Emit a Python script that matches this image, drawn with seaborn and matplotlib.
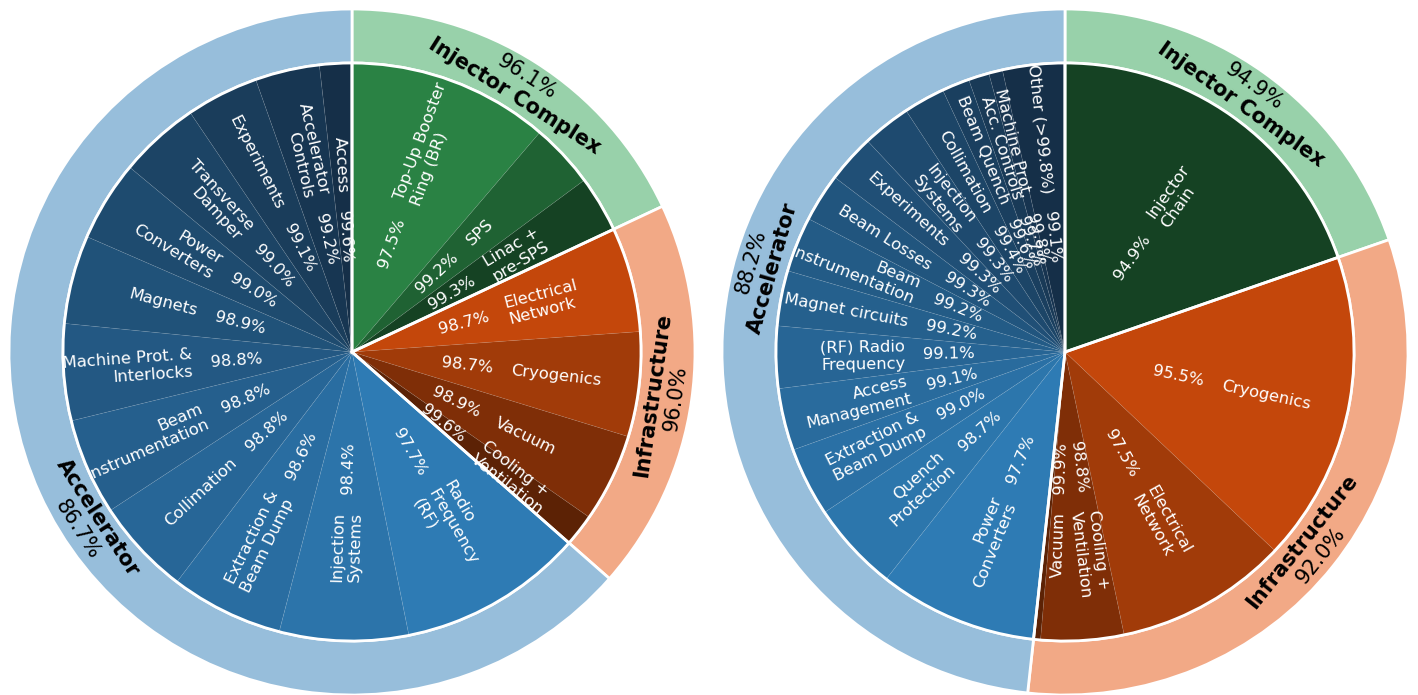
import numpy as np
import matplotlib
matplotlib.use("Agg")
import matplotlib.pyplot as plt
import seaborn as sns

# ---- left chart data (availability in %) ----
l_group_names = ["Injector Complex", "Infrastructure", "Accelerator"]
l_group_avail = [96.1, 96.0, 86.7]

l_inj_names = ["Top-Up Booster\nRing (BR)", "SPS", "Linac +\npre-SPS"]
l_inj_avail = [97.5, 99.2, 99.3]

l_infra_names = ["Electrical\nNetwork", "Cryogenics", "Vacuum", "Cooling +\nVentilation"]
l_infra_avail = [98.7, 98.7, 98.9, 99.6]

l_acc_names = ["Radio\nFrequency\n(RF)", "Injection\nSystems", "Extraction &\nBeam Dump",
               "Collimation", "Beam\nInstrumentation", "Machine Prot. &\nInterlocks",
               "Magnets", "Power\nConverters", "Transverse\nDamper", "Experiments",
               "Accelerator\nControls", "Access"]
l_acc_avail = [97.7, 98.4, 98.6, 98.8, 98.8, 98.8, 98.9, 99.0, 99.0, 99.1, 99.2, 99.6]

# ---- right chart data ----
r_group_names = ["Injector Complex", "Infrastructure", "Accelerator"]
r_group_avail = [94.9, 92.0, 88.2]

r_inj_names = ["Injector\nChain"]
r_inj_avail = [94.9]

r_infra_names = ["Cryogenics", "Electrical\nNetwork", "Cooling +\nVentilation", "Vacuum"]
r_infra_avail = [95.5, 97.5, 98.8, 99.9]

r_acc_names = ["Power\nConverters", "Quench\nProtection", "Extraction &\nBeam Dump",
               "Access\nManagement", "(RF) Radio\nFrequency", "Magnet circuits",
               "Beam\nInstrumentation", "Beam Losses", "Experiments", "Injection\nSystems",
               "Collimation", "Beam Quench", "Acc. Controls", "Machine Prot.",
               "Other (>99.8%)"]
r_acc_avail = [97.7, 98.7, 99.0, 99.1, 99.1, 99.2, 99.2, 99.3, 99.3, 99.3,
               99.4, 99.6, 99.7, 99.8, 99.1]

# colours
outer_cols = ["#98d1aa", "#f2a986", "#97bedb"]
inner_ends = [("#2a8244", "#154223"), ("#c4470b", "#5c2205"), ("#2e7bb4", "#152f48")]

R_IN = 289 / 343  # inner pie radius relative to outer ring
FS_IN = 11.8
FS_OUT = 15

sns.set_theme(style="white")


def shades(light, dark, n):
    if n == 1:
        return [dark]
    return sns.blend_palette([light, dark], n)


def norm(a):
    return (a + 180) % 360 - 180


def draw(ax, group_names, group_avail, subs, acc_label_angle, nudge):
    sizes = [[100 - a for a in av] for _, av in subs]
    totals = [sum(s) for s in sizes]

    # outer ring
    outer, _ = ax.pie(totals, radius=1, startangle=90, counterclock=False, colors=outer_cols,
                      wedgeprops=dict(width=1 - R_IN, edgecolor="white", linewidth=2))

    # inner pie
    flat = [v for s in sizes for v in s]
    cols = []
    for (light, dark), s in zip(inner_ends, sizes):
        cols += list(shades(light, dark, len(s)))
    inner, _ = ax.pie(flat, radius=R_IN, startangle=90, counterclock=False, colors=cols,
                      wedgeprops=dict(edgecolor=(1, 1, 1, 0.07), linewidth=0.6))
    # white borders between groups
    ax.pie(totals, radius=R_IN, startangle=90, counterclock=False, colors=["none"] * 3,
           wedgeprops=dict(edgecolor="white", linewidth=2, fill=False))

    names = [n for ns, _ in subs for n in ns]
    avails = [a for _, av in subs for a in av]
    for w, name, av in zip(inner, names, avails):
        ang = norm((w.theta1 + w.theta2) / 2 + nudge.get(name, 0))
        rad = np.deg2rad(ang)
        if np.cos(rad) >= 0:
            rot, ha = ang, "left"
        else:
            rot, ha = norm(ang + 180), "right"
        r1 = 0.466
        ax.text(r1 * np.cos(rad), r1 * np.sin(rad), name, rotation=rot, rotation_mode="anchor",
                ha=ha, va="center", multialignment=ha, color="white", fontsize=FS_IN)
        r2 = 0.338
        ax.text(r2 * np.cos(rad), r2 * np.sin(rad), f"{av:.1f}%", rotation=rot,
                rotation_mode="anchor", ha="center", va="center", color="white", fontsize=FS_IN)

    # outer labels
    for w, name, av in zip(outer, group_names, group_avail):
        ang = (w.theta1 + w.theta2) / 2
        if name == "Accelerator":
            ang = acc_label_angle
        ang = norm(ang)
        rad = np.deg2rad(ang)
        rot = norm(ang - 90)
        if rot < -90:
            rot += 180
        elif rot > 90:
            rot -= 180
        ax.text(0.885 * np.cos(rad), 0.885 * np.sin(rad), name, rotation=rot,
                rotation_mode="anchor", ha="center", va="center", fontsize=FS_OUT,
                fontweight="bold", color="black")
        ax.text(0.952 * np.cos(rad), 0.952 * np.sin(rad), f"{av:.1f}%", rotation=rot,
                rotation_mode="anchor", ha="center", va="center", fontsize=FS_OUT, color="black")

    ax.set_xlim(-1, 1)
    ax.set_ylim(-1, 1)
    ax.set_aspect("equal")
    ax.axis("off")


fig = plt.figure(figsize=(14.18, 6.95), dpi=100)
ax1 = fig.add_axes([9 / 1418, 0, 686 / 1418, 686 / 695])
ax2 = fig.add_axes([722 / 1418, 0, 686 / 1418, 686 / 695])

draw(ax1, l_group_names, l_group_avail,
     [(l_inj_names, l_inj_avail), (l_infra_names, l_infra_avail), (l_acc_names, l_acc_avail)],
     213, {})
draw(ax2, r_group_names, r_group_avail,
     [(r_inj_names, r_inj_avail), (r_infra_names, r_infra_avail), (r_acc_names, r_acc_avail)],
     164, {"Cooling +\nVentilation": 3.5, "Vacuum": 3.5})

fig.savefig("out.png", dpi=100)
